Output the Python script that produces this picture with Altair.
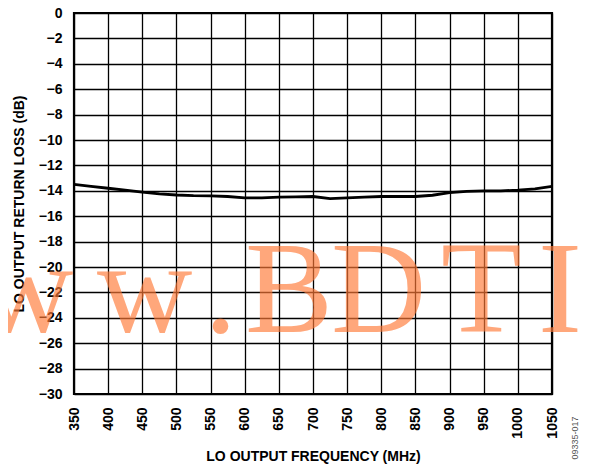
import altair as alt
import pandas as pd

freq = [350, 375, 400, 425, 450, 475, 500, 525, 550, 575, 600, 625, 650, 675, 700,
        725, 750, 775, 800, 825, 850, 875, 900, 925, 950, 975, 1000, 1025, 1050]
loss = [-13.5, -13.65, -13.8, -13.95, -14.1, -14.25, -14.33, -14.38, -14.4, -14.45,
        -14.55, -14.55, -14.5, -14.48, -14.45, -14.62, -14.55, -14.5, -14.45, -14.45,
        -14.45, -14.35, -14.15, -14.05, -14.0, -14.0, -13.95, -13.85, -13.65]
x_ticks = [350, 400, 450, 500, 550, 600, 650, 700, 750, 800, 850, 900, 950, 1000, 1050]
y_ticks = [0, -2, -4, -6, -8, -10, -12, -14, -16, -18, -20, -22, -24, -26, -28, -30]
watermark_letters = ["w", "w", ".", "B", "D", "T", "I", "C"]
figure_id = "09335-017"

# layout (page pixels) for the decorative watermark letters
PLOT_X0 = 74
wm_page_x = [-22, 97, 204, 245, 331, 441, 538, 582]

df = pd.DataFrame({"freq": freq, "loss": loss})
FONT = "Arial"

common_axis = dict(
    ticks=False, tickSize=0, domain=False, grid=True, gridColor="black",
    gridWidth=1.3, gridOpacity=1, labelFont=FONT, labelFontSize=14,
    labelFontWeight="bold", labelColor="black", titleFont=FONT,
    titleFontSize=14, titleFontWeight="bold", titleColor="black",
    labelFlush=False, labelOverlap=False,
)

x_enc = alt.X(
    "freq:Q",
    scale=alt.Scale(domain=[350, 1050], nice=False, zero=False),
    axis=alt.Axis(
        values=x_ticks, title="LO OUTPUT FREQUENCY (MHz)", labelAngle=270,
        labelAlign="right", labelBaseline="middle", labelPadding=13,
        format="d", titlePadding=11, **common_axis,
    ),
)
y_enc = alt.Y(
    "loss:Q",
    scale=alt.Scale(domain=[-30, 0], nice=False, zero=False),
    axis=alt.Axis(
        values=y_ticks, title="LO OUTPUT RETURN LOSS (dB)", labelPadding=12,
        titlePadding=12, **common_axis,
    ),
)

line = alt.Chart(df).mark_line(color="black", strokeWidth=2.8).encode(x=x_enc, y=y_enc)

layers = [line]
for letter, px in zip(watermark_letters, wm_page_x):
    layers.append(
        alt.Chart(pd.DataFrame({"t": [letter]})).mark_text(
            font="Liberation Serif", fontSize=132, color="#FF7A38", opacity=0.66,
            align="left", baseline="alphabetic",
        ).encode(x=alt.value(px - PLOT_X0), y=alt.value(319), text="t:N")
    )

fid = alt.Chart(pd.DataFrame({"t": [figure_id]})).mark_text(
    font=FONT, fontSize=9, color="#555555", angle=270, align="center",
    baseline="middle",
).encode(x=alt.value(501), y=alt.value(425), text="t:N")
layers.append(fid)

chart = alt.layer(*layers).properties(
    width=478, height=381,
    autosize=alt.AutoSizeParams(type="none"),
    padding={"left": 66, "top": 5, "right": 29, "bottom": 76},
).configure_view(stroke="black", strokeWidth=2.2)

chart.save("out.html", embed_options={"renderer": "svg", "actions": False})
